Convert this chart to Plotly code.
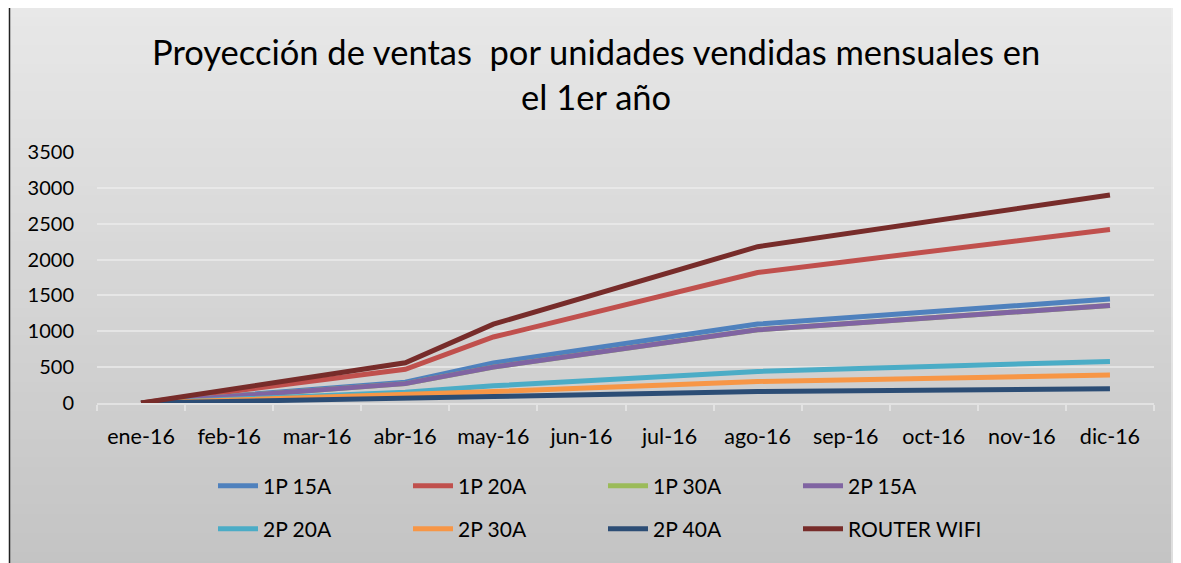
import plotly.graph_objects as go

months = ["ene-16", "feb-16", "mar-16", "abr-16", "may-16", "jun-16",
          "jul-16", "ago-16", "sep-16", "oct-16", "nov-16", "dic-16"]

# Values read at the months where the lines bend; other months left empty
# (lines connect across them, as in the reference).
s_1p15a = [0, None, None, 290, 560, None, None, 1100, None, None, None, 1450]
s_1p20a = [0, None, None, 470, 920, None, None, 1820, None, None, None, 2420]
s_1p30a = [0, None, None, 270, 500, None, None, 1020, None, None, None, 1360]
s_2p15a = [0, None, None, 270, 500, None, None, 1020, None, None, None, 1360]
s_2p20a = [0, None, None, 150, 240, None, None, 440, None, None, None, 580]
s_2p30a = [0, None, None, 110, 160, None, None, 300, None, None, None, 390]
s_2p40a = [0, None, None, 60, 90, None, None, 160, None, None, None, 200]
s_router = [0, None, None, 560, 1100, None, None, 2180, None, None, None, 2900]

names = ["1P 15A", "1P 20A", "1P 30A", "2P 15A",
         "2P 20A", "2P 30A", "2P 40A", "ROUTER WIFI"]
series = [s_1p15a, s_1p20a, s_1p30a, s_2p15a, s_2p20a, s_2p30a, s_2p40a, s_router]
colors = ["#4F81BD", "#C0504D", "#9BBB59", "#8064A2",
          "#4BACC6", "#F79646", "#2C4D75", "#772C2A"]

y_ticks = [0, 500, 1000, 1500, 2000, 2500, 3000, 3500]
title_text = "Proyección de ventas  por unidades vendidas mensuales en<br>el 1er año"

FONT = "Lato, 'Noto Sans', sans-serif"

OFF = 8  # page body margin
W, H = 1181 - OFF, 563 - OFF
# plot area in page pixels: x 97..1154, y 152..403
L = 97 - OFF
R = 1181 - 1154
T = 152 - OFF
B = 563 - 403
PW = W - L - R
PH = H - T - B


def px_x(px):
    return (px - OFF - L) / PW


def px_y(py):
    return (H - B - (py - OFF)) / PH


fig = go.Figure()
for i, (nm, vals, col) in enumerate(zip(names, series, colors)):
    fig.add_trace(go.Scatter(
        x=months, y=vals, name=nm, mode="lines",
        connectgaps=True,
        line=dict(color=col, width=5),
        legend="legend" if i < 4 else "legend2",
    ))

shapes = []
# vertical gradient background of the chart box
top_px, bot_px = 7, 570
n = 60
c_top, c_bot = 232, 195
for k in range(n):
    y0p = top_px + (bot_px - top_px) * k / n
    y1p = top_px + (bot_px - top_px) * (k + 1) / n + 1
    c = round(c_top + (c_bot - c_top) * (k + 0.5) / n)
    shapes.append(dict(type="rect", xref="paper", yref="paper",
                       x0=px_x(9), x1=px_x(1185), y0=px_y(y1p), y1=px_y(y0p),
                       fillcolor=f"rgb({c},{c},{c})", line=dict(width=0),
                       layer="below"))
# faint edge strip at the right
shapes.append(dict(type="line", xref="paper", yref="paper",
                   x0=px_x(1172), x1=px_x(1172), y0=px_y(575), y1=px_y(8),
                   line=dict(color="rgba(240,240,240,0.6)", width=2), layer="below"))
# border of the chart box (left and top edges visible)
shapes.append(dict(type="line", xref="paper", yref="paper",
                   x0=px_x(9.5), x1=px_x(9.5), y0=px_y(575), y1=px_y(7),
                   line=dict(color="#222222", width=1.5), layer="above"))
shapes.append(dict(type="line", xref="paper", yref="paper",
                   x0=px_x(9.5), x1=px_x(1185), y0=px_y(7), y1=px_y(7),
                   line=dict(color="#222222", width=1.5), layer="above"))

fig.update_layout(
    width=W, height=H, autosize=False,
    margin=dict(l=L, r=R, t=T, b=B),
    paper_bgcolor="white",
    plot_bgcolor="rgba(0,0,0,0)",
    font=dict(family=FONT, color="#000000", size=20),
    annotations=[dict(text=title_text, xref="paper", yref="paper",
                      x=px_x(596), y=px_y(74), xanchor="center", yanchor="middle",
                      showarrow=False, align="center",
                      font=dict(family=FONT, size=34.5, color="#000000"))],
    shapes=shapes,
    showlegend=True,
    legend=dict(orientation="h", x=px_x(213), y=px_y(486), xanchor="left",
                yanchor="middle", bgcolor="rgba(0,0,0,0)",
                itemwidth=40, entrywidth=140, font=dict(size=21)),
    legend2=dict(orientation="h", x=px_x(213), y=px_y(529), xanchor="left",
                 yanchor="middle", bgcolor="rgba(0,0,0,0)",
                 itemwidth=40, entrywidth=140, font=dict(size=21)),
    xaxis=dict(type="category", categoryorder="array", categoryarray=months,
               range=[-0.5, 11.5], showgrid=False, showline=True,
               linecolor="#e2e2e2", linewidth=2, ticks="outside",
               tickson="boundaries", tickcolor="#e2e2e2", ticklen=6, tickwidth=2,
               ticklabelstandoff=13, tickfont=dict(size=21.5), zeroline=False),
    yaxis=dict(range=[0, 3500], tickvals=y_ticks, showgrid=True,
               gridcolor="rgba(236,236,236,0.7)", gridwidth=1.5,
               zeroline=False, showline=False, ticks="",
               ticklabelstandoff=22, tickfont=dict(size=20)),
)

fig.write_html("out.html")
